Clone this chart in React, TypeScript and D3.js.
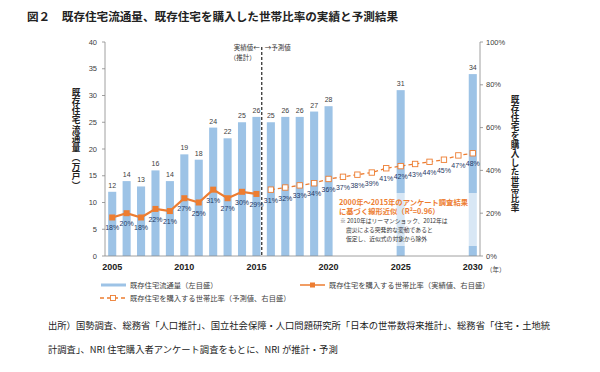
import React from "react";
import * as d3 from "d3";

const years = d3.range(2005, 2031).map(String);
const barYears = ["2005","2006","2007","2008","2009","2010","2011","2012","2013","2014","2015","2016","2017","2018","2019","2020","2025","2030"];
const barValues = [12,14,13,16,14,19,18,24,22,25,26,25,26,26,27,28,31,34];
const actualYears = ["2005","2006","2007","2008","2009","2010","2011","2012","2013","2014","2015"];
const actualRates = [18,20,18,22,21,27,25,31,27,30,29];
const forecastYears = ["2016","2017","2018","2019","2020","2021","2022","2023","2024","2025","2026","2027","2028","2029","2030"];
const forecastRates = [31,32,33,34,36,37,38,39,41,42,43,44,45,47,48];
const leftTicks = [0,5,10,15,20,25,30,35,40];
const rightTicks = [0,20,40,60,80,100];
const xTickYears = ["2005","2010","2015","2020","2025","2030"];
const leftTitle = "既存住宅流通量（万戸）";
const rightTitle = "既存住宅を購入した世帯比率";

const BLUE = "#9DC3E6";
const ORANGE = "#ED7D31";
const JP = "'Noto Sans CJK JP', sans-serif";
const NUM = "'Liberation Sans', Arial, sans-serif";

export default function App() {
  const x = d3.scaleBand<string>().domain(years).range([105, 480]).paddingInner(0.44).paddingOuter(0.22);
  const yL = d3.scaleLinear().domain([0, 40]).range([256, 42]);
  const yR = d3.scaleLinear().domain([0, 100]).range([256, 42]);
  const cx = (yr: string) => (x(yr) as number) + x.bandwidth() / 2;
  const line = d3.line<[string, number]>().x(d => cx(d[0])).y(d => yR(d[1]));
  const actualPts = actualYears.map((yr, i) => [yr, actualRates[i]] as [string, number]);
  const fcPts = forecastYears.map((yr, i) => [yr, forecastRates[i]] as [string, number]);
  const divX = cx("2015") + x.step() * 0.37;

  return (
    <svg width={600} height={372} style={{ position: "absolute", left: 0, top: 0, background: "#fff" }}>
      <text x={27} y={21} fontFamily={JP} fontSize={11.6} fontWeight="bold" fill="#222">図２　既存住宅流通量、既存住宅を購入した世帯比率の実績と予測結果</text>

      {/* bars */}
      {barYears.map((yr, i) => (
        <rect key={yr} x={x(yr)} y={yL(barValues[i])} width={x.bandwidth()} height={yL(0) - yL(barValues[i])} fill={BLUE} />
      ))}
      {barYears.map((yr, i) => (
        <text key={"bl" + yr} x={cx(yr)} y={yL(barValues[i]) - 4} textAnchor="middle" fontFamily={NUM} fontSize={7} fill="#404040">{barValues[i]}</text>
      ))}

      {/* annotation box */}
      <rect x={337} y={193} width={141} height={53} fill="#fff" opacity={0.6} />

      {/* axes */}
      <line x1={105} y1={42} x2={105} y2={256} stroke="#888" strokeWidth={0.8} />
      <line x1={480} y1={42} x2={480} y2={256} stroke="#888" strokeWidth={0.8} />
      <line x1={105} y1={256} x2={480} y2={256} stroke="#888" strokeWidth={0.8} />
      {leftTicks.map(t => (
        <g key={"lt" + t}>
          <line x1={102} x2={105} y1={yL(t)} y2={yL(t)} stroke="#888" strokeWidth={0.8} />
          <text x={97} y={yL(t) + 2.5} textAnchor="end" fontFamily={NUM} fontSize={7.5} fill="#404040">{t}</text>
        </g>
      ))}
      {rightTicks.map(t => (
        <g key={"rt" + t}>
          <line x1={480} x2={483} y1={yR(t)} y2={yR(t)} stroke="#888" strokeWidth={0.8} />
          <text x={486} y={yR(t) + 2.5} textAnchor="start" fontFamily={NUM} fontSize={7.5} fill="#404040">{t}%</text>
        </g>
      ))}
      {xTickYears.map(yr => (
        <text key={"xt" + yr} x={cx(yr)} y={270} textAnchor="middle" fontFamily={NUM} fontSize={9} fontWeight="bold" fill="#222">{yr}</text>
      ))}
      <text x={486} y={272} fontFamily={JP} fontSize={6.5} fill="#404040">（年）</text>

      {/* divider */}
      <line x1={divX} x2={divX} y1={47} y2={256} stroke="#111" strokeWidth={1.1} strokeDasharray="3,2" />
      <text x={divX - 2} y={50} textAnchor="end" fontFamily={JP} fontSize={6.5} fill="#333">実績値←</text>
      <text x={divX - 6} y={60} textAnchor="end" fontFamily={JP} fontSize={6.5} fill="#333">（推計）</text>
      <text x={divX + 3} y={50} textAnchor="start" fontFamily={JP} fontSize={6.5} fill="#333">→予測値</text>

      {/* actual line */}
      <path d={line(actualPts) as string} fill="none" stroke={ORANGE} strokeWidth={2.2} />
      {actualPts.map(p => (
        <rect key={"ap" + p[0]} x={cx(p[0]) - 3} y={yR(p[1]) - 3} width={6} height={6} fill={ORANGE} />
      ))}
      {/* forecast line */}
      <path d={line(fcPts) as string} fill="none" stroke={ORANGE} strokeWidth={1.3} strokeDasharray="4,3" />
      {fcPts.map(p => (
        <rect key={"fp" + p[0]} x={cx(p[0]) - 2.7} y={yR(p[1]) - 2.7} width={5.4} height={5.4} fill="#fff" stroke={ORANGE} strokeWidth={0.9} />
      ))}
      {actualPts.concat(fcPts).map(p => (
        <text key={"pl" + p[0]} x={cx(p[0])} y={yR(p[1]) + 13} textAnchor="middle" fontFamily={NUM} fontSize={7} fill="#1F3864">{p[1]}%</text>
      ))}

      {/* annotation */}
      <text x={339} y={205} fontFamily={JP} fontSize={7.3} fontWeight="bold" fill={ORANGE}>2000年～2015年のアンケート調査結果</text>
      <text x={339} y={214} fontFamily={JP} fontSize={7.3} fontWeight="bold" fill={ORANGE}>に基づく線形近似（R²=0.96）</text>
      <text x={340} y={223} fontFamily={JP} fontSize={5.8} fill="#333">※ 2010年はリーマンショック、2012年は</text>
      <text x={346} y={232} fontFamily={JP} fontSize={5.8} fill="#333">震災による突発的な変動であると</text>
      <text x={346} y={241} fontFamily={JP} fontSize={5.8} fill="#333">仮定し、近似式の対象から除外</text>

      {/* axis titles */}
      <text x={76} y={88} fontFamily={JP} fontSize={8.6} fontWeight="bold" fill="#222" letterSpacing={0.7} style={{ writingMode: "vertical-rl" }}>{leftTitle}</text>
      <text x={515} y={95} fontFamily={JP} fontSize={8.6} fontWeight="bold" fill="#222" letterSpacing={0.4} style={{ writingMode: "vertical-rl" }}>{rightTitle}</text>

      {/* legend */}
      <line x1={101} x2={126} y1={285} y2={285} stroke={BLUE} strokeWidth={3} />
      <text x={130} y={288} fontFamily={JP} fontSize={7.3} fill="#404040">既存住宅流通量（左目盛）</text>
      <line x1={300} x2={325} y1={285} y2={285} stroke={ORANGE} strokeWidth={1.5} />
      <rect x={310} y={282.5} width={5} height={5} fill={ORANGE} />
      <text x={329} y={288} fontFamily={JP} fontSize={7.3} fill="#404040">既存住宅を購入する世帯比率（実績値、右目盛）</text>
      <line x1={100} x2={126} y1={298} y2={298} stroke={ORANGE} strokeWidth={1.3} strokeDasharray="4,3" />
      <rect x={110.5} y={295.5} width={5} height={5} fill="#fff" stroke={ORANGE} strokeWidth={0.9} />
      <text x={130} y={301} fontFamily={JP} fontSize={7.3} fill="#404040">既存住宅を購入する世帯比率（予測値、右目盛）</text>

      {/* source */}
      <text x={48} y={329} fontFamily={JP} fontSize={9.3} fill="#222">出所）国勢調査、総務省「人口推計」、国立社会保障・人口問題研究所「日本の世帯数将来推計」、総務省「住宅・土地統</text>
      <text x={48} y={353} fontFamily={JP} fontSize={9.3} fill="#222">計調査」、NRI 住宅購入者アンケート調査をもとに、NRI が推計・予測</text>
    </svg>
  );
}
